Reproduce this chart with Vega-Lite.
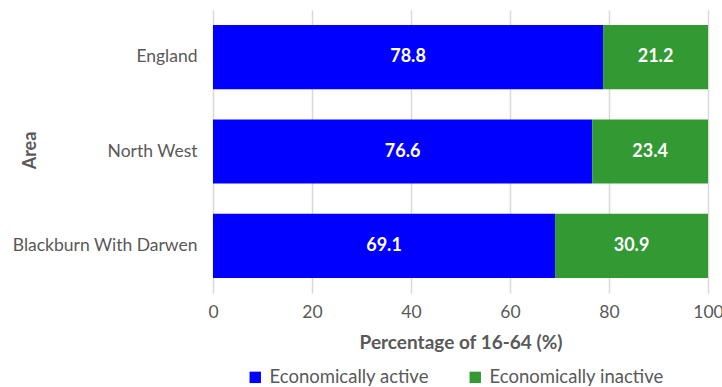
{
  "$schema": "https://vega.github.io/schema/vega-lite/v6.json",
  "width": 495,
  "height": 283,
  "autosize": {"type": "none"},
  "padding": {"left": 213, "top": 10, "right": 14, "bottom": 94},
  "background": "white",
  "config": {
    "view": {"stroke": null},
    "font": "Lato"
  },
  "data": {
    "values": [
      {"area": "England", "status": "Economically active", "order": 1, "value": 78.8},
      {"area": "England", "status": "Economically inactive", "order": 2, "value": 21.2},
      {"area": "North West", "status": "Economically active", "order": 1, "value": 76.6},
      {"area": "North West", "status": "Economically inactive", "order": 2, "value": 23.4},
      {"area": "Blackburn With Darwen", "status": "Economically active", "order": 1, "value": 69.1},
      {"area": "Blackburn With Darwen", "status": "Economically inactive", "order": 2, "value": 30.9}
    ]
  },
  "transform": [
    {"stack": "value", "groupby": ["area"], "sort": [{"field": "order"}], "as": ["x0", "x1"]},
    {"calculate": "(datum.x0 + datum.x1) / 2", "as": "mid"}
  ],
  "encoding": {
    "y": {
      "field": "area",
      "type": "nominal",
      "sort": ["England", "North West", "Blackburn With Darwen"],
      "scale": {"paddingInner": 0.32, "paddingOuter": 0.16},
      "axis": {
        "title": "Area",
        "titleFontSize": 18,
        "titleFontWeight": "bold",
        "titleColor": "#595959",
        "titleX": -183,
        "titleY": 140,
        "titleAngle": 270,
        "titleBaseline": "middle",
        "titleAlign": "center",
        "labelFontSize": 17.5,
        "labelColor": "#595959",
        "labelPadding": 16,
        "labelLimit": 300,
        "ticks": false,
        "domain": false,
        "grid": false
      }
    }
  },
  "layer": [
    {
      "mark": {"type": "bar"},
      "encoding": {
        "x": {
          "field": "x0",
          "type": "quantitative",
          "scale": {"domain": [0, 100], "nice": false},
          "axis": {
            "title": "Percentage of 16-64 (%)",
            "titleFontSize": 19,
            "titleFontWeight": "bold",
            "titleColor": "#595959",
            "titlePadding": 13,
            "labelFontSize": 17.5,
            "labelColor": "#595959",
            "labelPadding": 10,
            "labelFlush": false,
            "values": [0, 20, 40, 60, 80, 100],
            "grid": true,
            "gridColor": "#d9d9d9",
            "gridWidth": 1.5,
            "ticks": false,
            "domain": false
          }
        },
        "x2": {"field": "x1"},
        "color": {
          "field": "status",
          "type": "nominal",
          "scale": {
            "domain": ["Economically active", "Economically inactive"],
            "range": ["#0000ff", "#339933"]
          },
          "legend": {
            "title": null,
            "orient": "none",
            "direction": "horizontal",
            "legendX": 33,
            "legendY": 358,
            "symbolType": "square",
            "symbolSize": 130,
            "symbolStrokeWidth": 0,
            "labelFontSize": 18.5,
            "labelColor": "#595959",
            "labelLimit": 300,
            "columnPadding": 37,
            "labelOffset": 5
          }
        }
      }
    },
    {
      "mark": {"type": "text", "color": "white", "fontWeight": "bold", "fontSize": 18},
      "encoding": {
        "x": {"field": "mid", "type": "quantitative"},
        "text": {"field": "value", "type": "quantitative", "format": ".1f"}
      }
    }
  ]
}
